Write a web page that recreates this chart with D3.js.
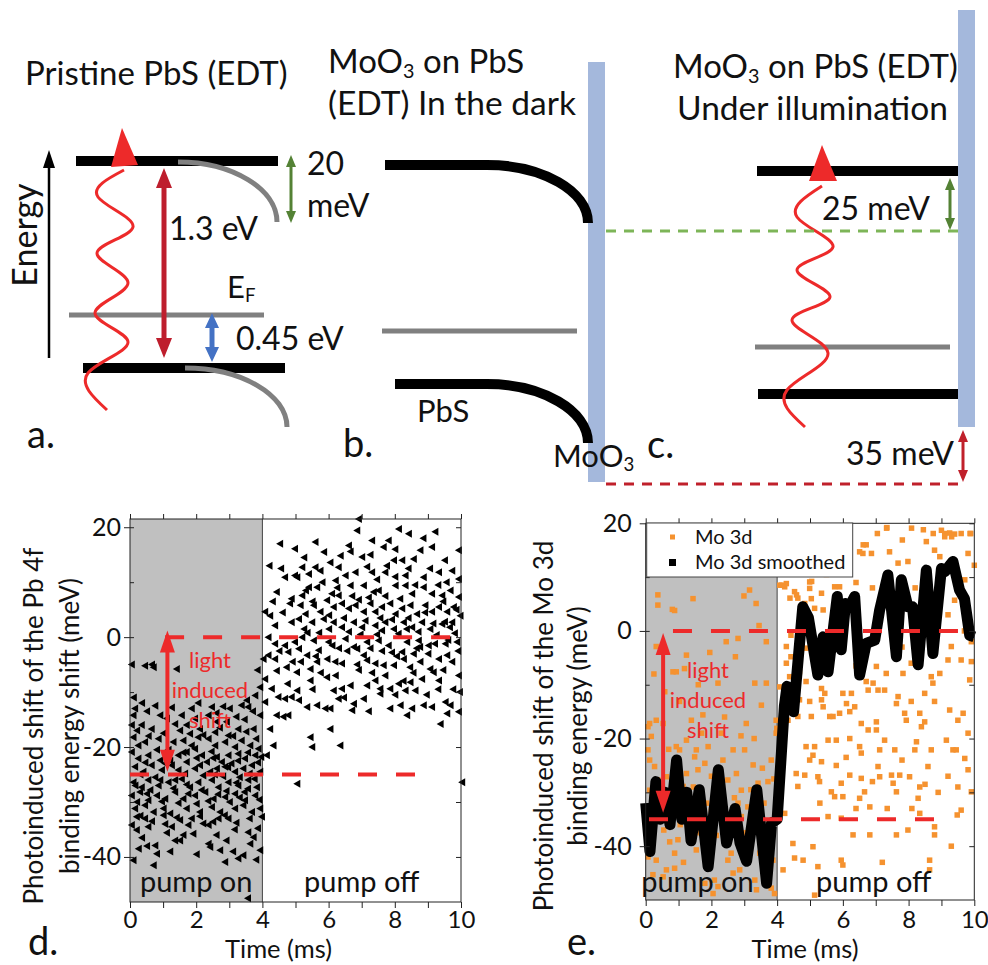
<!DOCTYPE html>
<html>
<head>
<meta charset="utf-8">
<script src="https://cdn.jsdelivr.net/npm/d3@7"></script>
<style>
  body { margin: 0; background: #fff; }
  svg { display: block; font-family: Lato, 'Open Sans', sans-serif; }
</style>
</head>
<body>
<svg id="fig" width="988" height="965"></svg>
<script>
// ---- data ----
// panel d: Pb 4f shift, [time (ms), shift (meV)]
var pbOn = [
  [0.04,-5],[0.44,-5.2],[0.7,-5.5],[0.65,-5],[1.4,-5.8],[3.84,-6],[3.92,-9.1],[3.77,-10.6],[3.52,-11.5],
  [0.14,-13],[0.09,-14.2],[0.9,-14.2],[1.55,-14.2],[1.95,-14.8],[2.36,-14.2],[2.46,-12.7],[3.36,-12.4],[3.56,-12.7],[2.91,-15.4],[3.92,-14.2],
  [0.04,-16],[0.34,-16],[0.64,-16.7],[1.35,-15.8],[1.7,-16],[1.8,-17.6],[2.1,-16.7],[2.56,-17.3],[2.96,-17.9],[3.26,-16.7],[3.72,-16.7],[2.61,-15.4],
  [0.09,-18.2],[0.44,-19.1],[0.24,-19.7],[0.85,-18.5],[1.3,-19.1],[1.6,-18.8],[1.85,-19.7],[2.05,-18.2],[2.36,-18.5],[2.56,-19.7],[2.86,-19.1],[3.16,-20],[3.36,-18.8],[3.62,-19.7],[3.87,-20.3],[1.95,-20.3],
  [0.04,-20.9],[0.24,-22.1],[0.54,-21.5],[0.9,-22.4],[1.45,-21.5],[1.7,-20.9],[1.7,-22.7],[2.16,-21.5],[2.31,-22.7],[2.61,-21.8],[2.76,-22.7],[2.96,-21.5],[3.26,-21.2],[3.46,-22.1],[3.77,-21.5],
  [0.14,-23.6],[0.39,-24.5],[0.64,-23.3],[0.95,-24.2],[1.25,-23.3],[1.45,-24.2],[1.95,-23.9],[2.1,-23.3],[2.41,-24.5],[2.61,-23.9],[2.86,-23.6],[3.16,-24.5],[3.41,-23.9],[3.67,-23.3],[3.92,-24.5],
  [0.09,-26.4],[0.34,-27.3],[0.54,-26],[0.85,-27],[1.15,-26.4],[1.55,-25.8],[1.8,-27.3],[2.05,-26.4],[2.46,-26],[2.66,-27.3],[2.96,-26.4],[3.26,-27],[3.56,-26],[3.82,-27.3],
  [0.04,-28.8],[0.29,-28.2],[0.54,-29.7],[0.8,-28.8],[1.05,-29.4],[1.35,-28.2],[1.6,-29.4],[1.95,-28.8],[2.26,-28.2],[2.51,-29.4],[2.86,-29.1],[3.16,-28.5],[3.46,-29.7],[3.77,-28.8],
  [0.14,-31.2],[0.44,-30.6],[0.7,-31.8],[1.0,-31.2],[1.2,-32.1],[1.7,-31.2],[2.1,-31.8],[2.46,-30.9],[2.71,-31.8],[3.16,-31.2],[3.41,-30.6],[3.67,-31.8],[3.92,-31.2],
  [0.19,-32.7],[0.44,-33],[1.0,-32.4],[1.5,-33.3],[1.85,-33],[2.2,-33.9],[2.66,-33],[2.96,-33],[3.97,-32.7],[0.04,-34.2],[0.54,-34.5],[1.25,-34.5],[2.36,-34.2],
  [0.19,-35.1],[3.56,-35.5],[3.72,-36.4],[1.35,-37],[1.5,-37],[2.36,-37.6],[2.41,-38.2],[0.75,-37.9],[3.62,-37.6],
  [2.71,-38.8],[3.92,-38.8],[3.41,-39.7],[0.8,-39.4],[3.26,-40.3],[2.86,-40.9],[0.09,-40.6],[0.7,-41.5],[3.55,-47.5],
  [0.2,-17],[0.55,-18],[1.0,-17.5],[1.15,-20.5],[1.5,-17],[2.2,-17.8],[2.7,-16.5],[3.1,-18],[3.5,-17.2],[3.8,-18.5],
  [0.3,-25],[0.75,-25.5],[1.05,-23],[1.35,-26],[1.65,-24.8],[2.2,-25.2],[2.5,-22],[2.8,-25.3],[3.05,-23],[3.3,-25.5],[3.6,-24.8],[3.85,-22.8],
  [0.2,-30],[0.6,-27.8],[0.95,-29.9],[1.45,-30.2],[1.75,-28.5],[2.0,-30.3],[2.35,-29.8],[2.65,-28.6],[3.0,-30],[3.3,-29.2],[3.55,-27.6],[3.9,-29.6],
  [0.35,-36.5],[1.1,-35.6],[1.9,-35.8],[2.6,-36],[3.15,-35],[0.5,-13.5],[1.25,-12.8],[2.8,-12.6],[3.2,-14.5],
  [0.1,-11],[0.35,-12],[0.75,-12.5],[1.1,-14.8],[1.85,-13],[2.05,-12],[2.6,-13.8],[3.0,-13],[3.45,-15],[3.7,-13.5],
  [0.45,-22.8],[0.8,-20.5],[1.2,-22.5],[1.6,-21],[2.0,-22],[2.45,-20.8],[2.95,-23.7],[3.25,-22.5],[3.55,-21],[3.95,-21.8],
  [0.15,-27],[0.5,-28.5],[0.9,-26],[1.3,-27.5],[1.7,-26.8],[2.15,-27.8],[2.55,-25],[2.9,-28],[3.2,-26.5],[3.45,-28.2],[3.75,-25.8],
  [0.3,-32.5],[0.65,-33.5],[1.05,-34],[1.4,-32.8],[1.75,-34.2],[2.1,-32.6],[2.5,-33.6],[2.85,-32.4],[3.2,-33.8],[3.6,-33],[3.85,-34.8],
  [0.5,-38],[1.2,-39],[2.0,-39.5],[2.9,-37],[3.1,-39],[3.8,-40.5],[1.6,-36],[0.25,-38.5]
]
var pbOff = [
  [4.52,17],[4.97,16.1],[4.67,10.9],[4.97,11.2],[4.42,8.2],[4.87,7],[4.82,6.1],[4.07,4.6],[4.22,3.9],[4.37,2.1],[4.87,2.7],[4.17,0],[4.37,-1.2],[4.67,-1.5],[4.97,-0.9],
  [4.17,-3.3],[4.02,-4],[4.37,-4],[4.77,-2.7],[4.42,-6.1],[4.72,-5.5],[5.03,-6.4],[4.07,-7.6],[4.27,-9.4],[4.47,-10.9],[4.67,-11.2],[4.87,-10.9],[4.07,-11.8],
  [4.42,-14.2],[4.62,-14.5],[4.77,-14.2],[4.22,-16.7],[4.32,-19.7],[4.12,-21.5],
  [6.9,21.5],[6.85,19.4],[8.11,19.7],[8.41,18.8],[9.21,19.2],[5.59,17.3],[7.3,17.6],[7.8,17.6],[7.65,16.4],[9.11,16.4],[6.6,16.7],[6.65,15.6],[7.0,14.6],[8.76,15.8],
  [8.56,14.2],[7.96,14],[8.21,14],[7.75,13],[9.92,15.8],[6.04,13.6],[6.29,12.7],[5.59,12.7],[5.74,12.1],[5.19,12.7],[5.39,11.5],[6.5,11.2],[6.8,11.8],[7.3,11.8],
  [7.7,11.8],[8.31,11.2],[8.86,10.9],[9.32,11.8],[9.72,12.1],[9.92,10.6],[5.04,10.9],
  [5.39,9.1],[5.64,9.1],[6.09,7.9],[6.29,7.6],[6.65,9.4],[7.05,9.4],[7.35,8.2],[7.5,8.5],[8.01,9.4],[8.31,9.4],[8.51,7.9],[8.86,9.1],[9.11,7.9],[9.42,7.6],[9.67,8.5],[9.92,7.3],[5.19,7.6],
  [5.14,5.8],[5.29,4.2],[5.54,5.8],[5.74,4.6],[5.94,6.7],[6.14,5.5],[6.39,6.1],[6.6,5.2],[6.8,5.8],[7.05,4.6],[7.25,6.1],[7.4,4.6],[7.6,5.5],[7.85,6.1],[8.01,4.2],
  [8.21,5.2],[8.46,5.8],[8.66,4.2],[8.91,5.8],[9.11,4.6],[9.32,5.5],[9.57,4.6],[9.77,5.5],[9.97,3.9],
  [5.09,3.3],[5.49,2.7],[5.84,3.3],[6.14,2.7],[6.39,1.8],[6.75,2.7],[7.1,3],[7.4,2.1],[7.7,2.7],[7.96,1.5],[8.26,2.7],[8.51,1.8],[8.81,2.7],[9.06,1.5],[9.42,2.4],[9.72,2.7],
  [5.19,0],[5.54,-0.6],[5.99,-0.9],[6.5,-0.3],[6.75,-1.8],[7.15,-0.9],[7.5,-0.6],[7.8,-1.5],[8.36,-0.9],[8.71,-0.6],[9.01,-1.5],[9.52,-1.2],[9.87,-0.9],
  [5.09,-2.1],[5.34,-3.3],[5.69,-2.4],[6.19,-4.5],[6.39,-4.8],[6.85,-2.1],[7.05,-3.3],[7.15,-4.2],[7.4,-4.8],[7.65,-5.1],[7.96,-5.1],[8.21,-2.7],[8.26,-4],[8.56,-3],
  [8.76,-4.5],[9.06,-5.8],[9.32,-4],[9.57,-3.3],[9.72,-4.5],[9.92,-7],
  [5.44,-5.8],[5.64,-4.5],[5.94,-7.3],[5.44,-7.9],[6.65,-8.8],[6.39,-9.4],[6.14,-9.7],[7.15,-8.8],[7.4,-7.9],[7.55,-9.4],[7.85,-9.4],[8.11,-8.5],[8.31,-9.7],[8.46,-8.2],
  [8.61,-9.7],[8.81,-7.6],[9.16,-6.4],[9.32,-7.9],
  [5.04,-9.7],[5.09,-11.5],[5.34,-12.7],[5.64,-12.4],[5.89,-13],[6.04,-13],[6.29,-11.2],[6.75,-12.1],[6.7,-13.3],[7.05,-11.2],[7.55,-10.3],[7.85,-13],[8.16,-12.4],
  [8.36,-14.2],[8.51,-13],[8.86,-12.4],[9.11,-12.7],[9.52,-11.8],[9.67,-12.4],[9.57,-13.9],[9.92,-13.6],[9.37,-15.8],
  [6.04,-16.7],[5.44,-18.2],[5.49,-20],[6.34,-19.7],[5.04,-26.7],[10.02,-26.4],
  [5.25,1.5],[5.7,0.8],[6.0,4],[6.3,-2],[6.6,1],[6.95,0.5],[7.25,-2],[7.6,1.2],[7.9,-2.8],[8.1,0.6],[8.4,3.5],[8.7,1],[9.0,-3],[9.25,0.4],[9.5,2.8],[9.8,0.7],
  [5.6,-3.5],[6.9,6.8],[7.7,7.5],[8.55,-6.5],[9.3,9.5],[6.2,10.3],[7.15,12.8],[8.0,11],[9.55,10],
  [5.3,8.5],[5.5,6.5],[5.8,10],[6.0,1.5],[6.2,-7],[6.45,3.5],[6.55,-2.5],[6.7,7.5],[6.9,-6],[7.0,1.8],[7.2,7.2],[7.3,-6.5],[7.45,0.5],[7.55,3.5],[7.7,-7],
  [7.9,3.2],[8.05,-3.5],[8.15,7],[8.35,1.5],[8.45,-5.5],[8.6,9.5],[8.75,-1.8],[8.9,4.5],[8.95,-10.5],[9.15,2.5],[9.3,-9.5],[9.45,6.5],[9.6,-0.5],[9.75,-9.5],[9.85,5],
  [5.15,-4.5],[5.35,0.8],[5.5,-9.5],[5.75,-6.5],[5.95,-4],[6.1,-1.5],[6.25,9],[6.45,-11],[6.85,-5],[7.2,-13.5],[7.45,10.5],[7.6,-2.5],[8.0,-10.5],[8.25,-8],
  [8.4,12.5],[8.65,-2],[9.05,12.5],[9.2,-1.2],[9.45,-6],[9.65,1.8],[9.9,-2.5],[5.25,14.5],[5.85,15.5],[6.35,14.8],[7.25,15],[8.0,16],[8.85,18],[9.5,14],[9.95,-10],
  [4.2,13],[4.55,12.5],[4.3,6.5],[4.6,4.5],[4.9,-4.5],[4.75,-8.5],[4.5,-2.5]
]

// panel e: Mo 3d raw points [time (ms), shift (meV)]
var moPts = [
  [0.37,6.7],[0.37,4.8],[0.81,4.0],[0.88,3.8],[1.44,6.0],[3.16,7.6],[2.99,6.5],[3.36,5.1],[0.32,-2.9],[1.24,-4.5],[0.83,-7.6],[0.93,-7.6],[1.18,-7],[2.81,-1.4],
  [2.73,-4.8],[3.67,-2],[3.32,-9.7],[3.67,-9.7],[2.2,-9.7],[0.58,-11.3],[0.12,-17.2],[0.07,-17.8],[0.32,-16.6],[0.53,-17.2],[0.17,-19.6],[1.03,-13.1],[1.39,-16.6],
  [1.74,-15.6],[1.24,-20.3],[0.93,-21.5],[1.03,-22.1],[1.54,-22.1],[1.49,-23.4],[1.9,-21.5],[2.3,-19],[2.66,-22.1],[3.01,-22.1],[3.06,-17.2],[3.52,-13.8],[3.97,-16.6],
  [3.97,-19],[0.07,-22.1],[0.12,-24],[0.27,-25.2],[0.63,-27.1],[1.24,-26.5],[1.59,-25.8],[1.8,-24.6],[2.35,-24],[2.5,-27.7],[2.76,-26.5],[2.91,-29.6],[3.27,-24.9],
  [3.42,-28.3],[3.72,-28],[3.82,-24],[0.12,-29.6],[0.37,-27.7],[0.73,-30.8],[0.98,-30.8],[1.14,-28.9],[1.85,-32],[2.0,-33.3],[2.81,-32],[2.91,-34.5],[3.11,-32.7],
  [3.42,-36.4],[0.98,-38.8],[0.73,-39.2],[0.88,-41.3],[1.34,-38.2],[1.54,-40.7],[1.9,-36.4],[2.5,-42.6],[2.6,-41.3],[2.96,-40.7],[3.47,-41.3],[3.87,-42.6],[0.32,-42.6],
  [0.07,-42],[0.63,-44.4],[0.88,-44.1],[0.22,-45.3],[0.53,-45.7],[1.8,-46.9],[2.09,-46.3],[2.2,-47.5],[2.66,-45],[2.86,-44.4],[3.32,-46.3],[3.37,-48.1],[3.82,-47.8],
  [3.92,-48.8],[2.05,-48.8],
  [0.2,-31],[0.45,-34],[0.55,-37],[0.7,-22],[0.85,-26.5],[1.05,-36],[1.15,-43],[1.3,-33],[1.45,-29],[1.65,-37.5],[1.7,-19],[2.0,-27],[2.15,-38],[2.25,-30.5],
  [2.4,-16],[2.55,-35],[2.7,-31],[2.9,-19.5],[3.05,-37.5],[3.2,-29.5],[3.3,-20],[3.55,-25.5],[3.6,-32],[3.75,-36],[3.9,-27.5],[0.25,-8],[1.6,-10],[2.45,-2],[3.45,1],[1.95,-4],
  [4.08,8.5],[4.23,8.2],[4.28,8.8],[4.53,7.3],[4.63,6.1],[4.99,7.9],[4.84,5.1],[4.42,-0.8],[4.28,-2.9],[4.42,-4.8],[4.68,-3.6],[4.88,-3.2],[4.28,-6],[4.38,-8.5],
  [4.68,-7.6],[4.88,-9.4],[4.08,-10.4],[4.68,-12.8],[4.99,-13.1],[4.33,-16.6],[4.63,-15.9],[3.99,-18.1],[4.88,-21.5],[4.58,-26.5],[4.84,-26.8],[4.63,-28.9],[4.99,-24],
  [4.23,-33.9],[4.48,-39.5],[4.53,-42.2],[4.18,-44.4],[4.79,-42.6],
  [4.99,9.1],[5.04,6],[5.14,4.2],[5.4,3.9],[5.35,7],[5.75,8.2],[5.9,8.2],[5.9,5.4],[6.26,5.7],[6.51,14.7],[6.61,14.4],[6.71,16],[6.87,14.4],[7.05,18.1],[7.34,19.2],
  [7.42,14.7],[7.68,12.6],[7.81,16.9],[7.98,12.9],[8.54,16.6],[8.79,15],[9.0,18.7],[9.1,17.5],[9.25,18.2],[9.4,18],[9.6,18.1],[9.89,18.1],[9.81,14.4],[9.71,9.5],
  [10.0,12.2],[8.95,13.8],[9.0,9.5],[9.4,5.7],[9.81,2],[9.91,-2],[9.3,-2.9],[9.2,-5.4],[9.6,-5.4],[9.91,-5.7],[9.86,-9.1],[8.95,-7.9],[8.69,-8.5],[8.49,-11.6],
  [8.79,-13.1],[8.74,-9.7],[8.08,-6],[7.83,-7.9],[8.08,-13.1],[7.88,-15.3],[7.63,-13.5],[7.68,-12.2],[7.32,-7.9],[7.27,-11],[7.02,-6.6],[6.92,-9.7],[7.07,-11],
  [6.71,-9.4],[6.77,-11],[6.26,-11.6],[6.0,-11.6],[6.11,-13.5],[6.21,-15],[6.36,-14.1],[5.35,-10.7],[5.45,-11.6],[5.35,-12.8],[5.4,-14.1],[5.6,-15.9],[5.7,-15.9],
  [5.9,-15.3],[5.04,-15.9],[6.56,-17.2],[6.77,-18.4],[7.02,-16.9],[7.02,-18.4],[7.93,-16.6],[8.34,-15.3],[8.49,-16.9],[8.39,-17.8],[9.25,-14.7],[9.66,-15.3],[9.5,-16.6],
  [9.81,-19],[9.35,-22.1],[9.15,-20.3],[8.69,-22.1],[8.59,-25.2],[8.24,-20.6],[8.19,-22.1],[7.58,-22.1],[7.27,-20.3],[7.12,-22.1],[6.56,-22.7],[6.51,-21.5],[6.21,-20],
  [5.8,-20.3],[5.55,-20.3],[5.14,-21.5],[5.09,-23.1],[5.35,-24.3],[5.24,-27.1],[5.29,-28],[5.65,-29.9],[5.75,-30.8],[5.95,-28.3],[6.0,-30.8],[6.51,-31.1],[6.56,-27.4],
  [6.21,-26.8],[6.82,-32.7],[6.66,-29.9],[7.07,-25.2],[7.12,-27.1],[7.48,-26.8],[7.53,-28.3],[7.63,-29.9],[7.73,-26.8],[8.03,-27.1],[8.34,-29],[8.29,-31.1],[8.34,-33.9],
  [8.79,-37.9],[8.79,-36.4],[9.48,-34.2],[9.6,-33.3],[9.91,-29.9],[9.81,-25.8],[9.71,-23.7],[9.45,-22.1],[5.95,-34.8],[5.55,-34.5],[6.31,-37.9],[6.82,-37.9],[7.63,-37.9],
  [7.98,-37],[5.09,-40.1],[5.24,-43.8],[5.95,-42.6],[6.0,-43.5],[8.64,-42.6],[8.64,-44.4],[5.14,-49.1],
  [6.07,16.9],[6.62,16],[7.33,19.1],[8.09,19.1],[8.45,18.8],[8.75,18.1],[9.1,18.1],[9.31,17.5],[9.87,18.1],[4.14,8.5],[4.39,6.1],[4.59,6.7],[5.05,9.2],
  [5.2,12],[5.5,10.5],[5.8,13.5],[6.4,9],[6.9,8],[7.5,5],[8.2,8],[8.6,6],[9.2,3],[9.7,0],[5.6,-5],[6.4,-6.5],[7.8,-3],[8.3,-1],
  [5.3,-32],[5.8,-25],[6.1,-23.5],[6.4,-33],[6.9,-28],[7.35,-33],[7.8,-24],[8.1,-33],[8.5,-28.5],[8.9,-30],[9.2,-27],[9.5,-29],[7.2,-43],[9.3,-40]
]
// panel e: smoothed Mo 3d curve
var moSmoothT = [0,0.13,0.31,0.44,0.59,0.74,0.94,1.1,1.25,1.38,1.63,1.9,2.21,2.46,2.72,2.87,3.07,3.38,3.68,3.83,4.0,
  4.22,4.3,4.5,4.78,4.95,5.24,5.4,5.55,5.83,5.95,6.08,6.2,6.36,6.51,6.71,6.97,7.12,7.37,7.63,7.78,7.98,8.12,8.29,8.54,8.74,9.0,9.1,9.35,9.55,9.7,9.86,10.0]
var moSmoothV = [-32,-41,-28,-35,-30,-36,-24,-35,-30,-39,-29.5,-43.8,-25.8,-39.4,-33,-39.4,-42.8,-29.5,-46.9,-35.7,-35,
  -14,-10.3,-15,4.5,2.5,-8.2,-1.1,-7.6,6.4,-3.5,5.1,4.5,6.4,-8.2,-2.3,-1.7,3.9,10.4,-4.8,9.5,4.5,4.5,-6.3,11.3,-4.2,11.6,11,12.9,7.6,6,-0.8,-1.1]

// reference levels and the double arrow (meV)
var pbRefLines = [{ v: 0, t0: 1.06, t1: 10 }, { v: -25, t0: 0, t1: 8.7 }]
var moRefLines = [{ v: 0, t0: 0.83, t1: 9.7 }, { v: -35, t0: 0.1, t1: 8.9 }]
var pbShiftArrow = { t: 1.13, v0: 1.2, v1: -24.5 }
var moShiftArrow = { t: 0.53, v0: -0.4, v1: -33.8 }

var timeTicks = [0, 2, 4, 6, 8, 10]
var shiftTicks = [-40, -20, 0, 20]
var pumpOnEnd = 4

var FONT = "Lato, 'Open Sans', sans-serif"
var RED = '#ed2a2a'
var DARKRED = '#c0202b'
var svg = d3.select('#fig')

// ---------- helpers ----------
function doubleArrow (g, x, y1, y2, color, sw, hw, hl) {
  g.append('line').attr('x1', x).attr('x2', x).attr('y1', y1 + hl - 1).attr('y2', y2 - hl + 1)
    .attr('stroke', color).attr('stroke-width', sw)
  g.append('path').attr('fill', color)
    .attr('d', 'M' + x + ',' + y1 + 'L' + (x - hw / 2) + ',' + (y1 + hl) + 'L' + (x + hw / 2) + ',' + (y1 + hl) + 'Z')
  g.append('path').attr('fill', color)
    .attr('d', 'M' + x + ',' + y2 + 'L' + (x - hw / 2) + ',' + (y2 - hl) + 'L' + (x + hw / 2) + ',' + (y2 - hl) + 'Z')
}

function txt (g, x, y, s, size, opts) {
  opts = opts || {}
  return g.append('text').attr('x', x).attr('y', y).attr('font-size', size)
    .attr('font-family', FONT).attr('fill', opts.fill || '#111')
    .attr('text-anchor', opts.anchor || 'start').text(s)
}

// text with subscript parts: parts = [[str, isSub], ...]
function subText (g, x, y, parts, size) {
  var t = g.append('text').attr('x', x).attr('y', y).attr('font-size', size)
    .attr('font-family', FONT).attr('fill', '#111')
  var drop = size * 0.14
  var low = false
  parts.forEach(function (p) {
    if (p[1]) {
      t.append('tspan').attr('dy', drop).attr('font-size', size * 0.6).text(p[0])
      low = true
    } else {
      t.append('tspan').attr('dy', low ? -drop : 0).text(p[0])
      low = false
    }
  })
  return t
}

// quarter-ellipse band bending: starts flat at (x0,y0), ends steep at (x1,y1)
function bend (x0, y0, x1, y1) {
  var k = 0.55
  return 'M' + x0 + ',' + y0 + 'C' + (x0 + k * (x1 - x0)) + ',' + y0 + ' ' + x1 + ',' + (y1 - k * (y1 - y0)) + ' ' + x1 + ',' + y1
}

var waveLine = d3.line().curve(d3.curveNatural)
function photon (g, pts, head) {
  g.append('path').attr('d', waveLine(pts)).attr('fill', 'none').attr('stroke', RED).attr('stroke-width', 3)
  g.append('path').attr('d', 'M' + head.join('L') + 'Z').attr('fill', RED)
}

// ---------- panel a ----------
var ga = svg.append('g')
txt(ga, 25, 85, 'Pristine PbS (EDT)', 33)
ga.append('line').attr('x1', 49).attr('x2', 49).attr('y1', 358).attr('y2', 166).attr('stroke', '#000').attr('stroke-width', 2.5)
ga.append('path').attr('d', 'M49,150L43,168L55,168Z').attr('fill', '#000')
txt(ga, 0, 0, 'Energy', 34, { anchor: 'middle' }).attr('transform', 'translate(37,235) rotate(-90)')
ga.append('line').attr('x1', 76).attr('x2', 278).attr('y1', 161).attr('y2', 161).attr('stroke', '#000').attr('stroke-width', 10)
ga.append('path').attr('d', bend(178, 162, 277, 222)).attr('fill', 'none').attr('stroke', '#808080').attr('stroke-width', 5)
ga.append('line').attr('x1', 69).attr('x2', 264).attr('y1', 315).attr('y2', 315).attr('stroke', '#808080').attr('stroke-width', 5)
ga.append('line').attr('x1', 83).attr('x2', 285).attr('y1', 368).attr('y2', 368).attr('stroke', '#000').attr('stroke-width', 10)
ga.append('path').attr('d', bend(185, 368, 287, 427)).attr('fill', 'none').attr('stroke', '#808080').attr('stroke-width', 5)
doubleArrow(ga, 164, 168, 358, '#be1e2d', 5, 16, 20)
doubleArrow(ga, 291, 155, 223, '#548235', 3, 10, 12)
doubleArrow(ga, 212, 313, 362, '#4472c4', 5, 14, 15)
photon(ga, [[107, 410], [88, 373], [128, 342], [95, 313], [128, 283], [97, 253], [133, 227], [98, 197], [124, 170]],
  [[122, 128], [111, 167], [138, 165]])
txt(ga, 307, 175, '20', 32)
txt(ga, 307, 217, 'meV', 32)
txt(ga, 169, 240, '1.3 eV', 32)
subText(ga, 227, 298, [['E'], ['F', true]], 31)
txt(ga, 236, 350, '0.45 eV', 32)
txt(ga, 27, 448, 'a.', 38)

// ---------- panel b ----------
var gb = svg.append('g')
subText(gb, 328, 73, [['MoO'], ['3', true], [' on PbS']], 33)
txt(gb, 328, 115, '(EDT) In the dark', 33.5)
gb.append('rect').attr('x', 588).attr('y', 62).attr('width', 17).attr('height', 420).attr('fill', '#a4b8dc')
gb.append('line').attr('x1', 385).attr('x2', 488).attr('y1', 165).attr('y2', 165).attr('stroke', '#000').attr('stroke-width', 10)
gb.append('path').attr('d', bend(487, 165, 588, 223)).attr('fill', 'none').attr('stroke', '#000').attr('stroke-width', 10)
gb.append('line').attr('x1', 382).attr('x2', 577).attr('y1', 331).attr('y2', 331).attr('stroke', '#808080').attr('stroke-width', 5)
gb.append('line').attr('x1', 395).attr('x2', 488).attr('y1', 384).attr('y2', 384).attr('stroke', '#000').attr('stroke-width', 10)
gb.append('path').attr('d', bend(487, 384, 588, 443)).attr('fill', 'none').attr('stroke', '#000').attr('stroke-width', 10)
txt(gb, 417, 422, 'PbS', 31)
txt(gb, 343, 457, 'b.', 38)
subText(gb, 553, 467, [['MoO'], ['3', true]], 31)

// ---------- panel c ----------
var gc = svg.append('g')
gc.append('rect').attr('x', 958).attr('y', 10).attr('width', 17).attr('height', 417).attr('fill', '#a4b8dc')
subText(gc, 673, 78, [['MoO'], ['3', true], [' on PbS (EDT)']], 33)
txt(gc, 677, 120, 'Under illumination', 33.5)
gc.append('line').attr('x1', 757).attr('x2', 958).attr('y1', 171).attr('y2', 171).attr('stroke', '#000').attr('stroke-width', 10)
gc.append('line').attr('x1', 755).attr('x2', 950).attr('y1', 347).attr('y2', 347).attr('stroke', '#808080').attr('stroke-width', 5)
gc.append('line').attr('x1', 758).attr('x2', 958).attr('y1', 394).attr('y2', 394).attr('stroke', '#000').attr('stroke-width', 10)
// dashed reference levels across b and c
svg.append('line').attr('x1', 606).attr('x2', 966).attr('y1', 231).attr('y2', 231)
  .attr('stroke', '#70ad47').attr('stroke-width', 3).attr('stroke-dasharray', '10,8').attr('opacity', 0.9)
svg.append('line').attr('x1', 606).attr('x2', 958).attr('y1', 484).attr('y2', 484)
  .attr('stroke', DARKRED).attr('stroke-width', 3).attr('stroke-dasharray', '10,8')
doubleArrow(gc, 950, 178, 230, '#548235', 3, 10, 12)
doubleArrow(gc, 963, 430, 482, DARKRED, 3, 10, 12)
photon(gc, [[805, 427], [787, 390], [828, 353], [792, 320], [830, 297], [797, 270], [833, 247], [797, 217], [822, 186]],
  [[822, 145], [809, 181], [837, 181]])
txt(gc, 822, 220, '25 meV', 32)
txt(gc, 846, 465, '35 meV', 32)
txt(gc, 647, 458, 'c.', 38)

// ---------- data panels ----------
function dataPanel (cfg) {
  var g = svg.append('g')
  var x = d3.scaleLinear().domain([0, 10]).range(cfg.xr)
  var y = d3.scaleLinear().domain(cfg.yd).range(cfg.yr)
  var x0 = cfg.xr[0]; var x1 = cfg.xr[1]; var yb = cfg.yr[0]; var yt = cfg.yr[1]

  g.append('rect').attr('x', x0).attr('y', yt).attr('width', x(pumpOnEnd) - x0).attr('height', yb - yt).attr('fill', '#c0c0c0')
  g.append('line').attr('x1', x(pumpOnEnd)).attr('x2', x(pumpOnEnd)).attr('y1', yt).attr('y2', yb).attr('stroke', '#444').attr('stroke-width', 1)

  cfg.marks(g, x, y)

  // axes
  var fmt = function (d) { return String(d) }
  var styleAxis = function (a, size) {
    a.select('.domain').remove()
    a.selectAll('line').attr('stroke', '#222')
    a.selectAll('text').attr('font-size', size).attr('font-family', FONT).attr('fill', '#111')
  }
  var ten = d3.range(-40, 21, 10)
  g.append('g').attr('transform', 'translate(' + x0 + ',0)')
    .call(d3.axisLeft(y).tickValues(shiftTicks).tickSize(6).tickPadding(cfg.ypad).tickFormat(fmt))
    .call(styleAxis, 25)
  g.append('g').attr('transform', 'translate(' + x0 + ',0)')
    .call(d3.axisLeft(y).tickValues(ten).tickSize(-4).tickFormat(''))
    .call(styleAxis, 10)
  g.append('g').attr('transform', 'translate(' + x1 + ',0)')
    .call(d3.axisRight(y).tickValues(ten).tickSize(-5).tickFormat(''))
    .call(styleAxis, 10)
  g.append('g').attr('transform', 'translate(0,' + yt + ')')
    .call(d3.axisTop(x).tickValues(d3.range(0, 11)).tickSize(5).tickFormat(''))
    .call(styleAxis, 10)
  g.append('g').attr('transform', 'translate(0,' + yb + ')')
    .call(d3.axisBottom(x).tickValues(d3.range(0, 11)).tickSize(6).tickPadding(cfg.xpad)
      .tickFormat(function (d) { return timeTicks.indexOf(d) >= 0 ? fmt(d) : '' }))
    .call(styleAxis, 24)
  g.append('rect').attr('x', x0).attr('y', yt).attr('width', x1 - x0).attr('height', yb - yt)
    .attr('fill', 'none').attr('stroke', '#222').attr('stroke-width', 1)

  // annotations
  cfg.refLines.forEach(function (r) {
    g.append('line').attr('x1', x(r.t0)).attr('x2', x(r.t1)).attr('y1', y(r.v)).attr('y2', y(r.v))
      .attr('stroke', RED).attr('stroke-width', 4).attr('stroke-dasharray', '19,19')
  })
  doubleArrow(g, x(cfg.arrow.t), y(cfg.arrow.v0), y(cfg.arrow.v1), RED, 4, 15, 22)
  ;['light', 'induced', 'shift'].forEach(function (s, i) {
    txt(g, cfg.noteX, cfg.noteY + i * 30, s, 22, { anchor: 'middle', fill: RED })
  })
  txt(g, (x0 + x(pumpOnEnd)) / 2 + cfg.onDx, 892, 'pump on', 29, { anchor: 'middle' })
  txt(g, (x(pumpOnEnd) + x1) / 2 + cfg.offDx, 892, 'pump off', 29, { anchor: 'middle' })
  txt(g, (x0 + x1) / 2 + cfg.titleDx, 958, 'Time (ms)', 25.5, { anchor: 'middle' })
  cfg.ytitle.forEach(function (s, i) {
    txt(g, 0, 0, s, 26, { anchor: 'middle' }).attr('transform', 'translate(' + cfg.ytitleX[i] + ',726) rotate(-90)')
  })
  txt(g, cfg.tag[1], 955, cfg.tag[0], 38)
  return { x: x, y: y, g: g }
}

// panel d
dataPanel({
  xr: [130, 461], yd: [-48.2, 21.5], yr: [902, 519], ypad: 3, xpad: 3, titleDx: -17,
  refLines: pbRefLines, arrow: pbShiftArrow, noteX: 210, noteY: 668, onDx: 0, offDx: 0,
  ytitle: ['Photoinduced shift of the Pb 4f', 'binding energy shift (meV)'], ytitleX: [43, 79],
  tag: ['d.', 28],
  marks: function (g, x, y) {
    g.selectAll('path.tri').data(pbOn.concat(pbOff)).enter().append('path')
      .attr('class', 'tri').attr('fill', '#000')
      .attr('d', function (d) {
        var px = x(d[0]); var py = y(d[1])
        return 'M' + (px - 3.5) + ',' + py + 'L' + (px + 3.5) + ',' + (py - 4) + 'L' + (px + 3.5) + ',' + (py + 4) + 'Z'
      })
  }
})

// panel e
var pe = dataPanel({
  xr: [645.7, 974.3], yd: [-50, 20], yr: [900, 523.3], ypad: 8, xpad: 5, titleDx: -5,
  refLines: moRefLines, arrow: moShiftArrow, noteX: 708, noteY: 678, onDx: -14, offDx: -2,
  ytitle: ['Photoinduced shift of the Mo 3d', 'binding energy (meV)'], ytitleX: [553, 587],
  tag: ['e.', 567],
  marks: function (g, x, y) {
    g.selectAll('rect.pt').data(moPts).enter().append('rect')
      .attr('class', 'pt').attr('fill', '#f5922f')
      .attr('x', function (d) { return x(d[0]) - 2.75 }).attr('y', function (d) { return y(d[1]) - 2.75 })
      .attr('width', 5.5).attr('height', 5.5)
    var line = d3.line().x(function (d, i) { return x(moSmoothT[i]) }).y(function (d) { return y(d) })
    g.append('path').attr('d', line(moSmoothV)).attr('fill', 'none').attr('stroke', '#000')
      .attr('stroke-width', 11).attr('stroke-linejoin', 'round')
  }
})

// legend for panel e
var lg = pe.g.append('g')
lg.append('rect').attr('x', 646.7).attr('y', 523).attr('width', 206).attr('height', 54)
  .attr('fill', '#fff').attr('stroke', '#444').attr('stroke-width', 1)
lg.append('rect').attr('x', 670).attr('y', 534.5).attr('width', 5).attr('height', 5).attr('fill', '#f5922f')
lg.append('rect').attr('x', 669).attr('y', 559).attr('width', 7).attr('height', 7).attr('fill', '#000')
txt(lg, 695, 544, 'Mo 3d', 20)
txt(lg, 695, 569, 'Mo 3d smoothed', 20)
</script>
</body>
</html>
